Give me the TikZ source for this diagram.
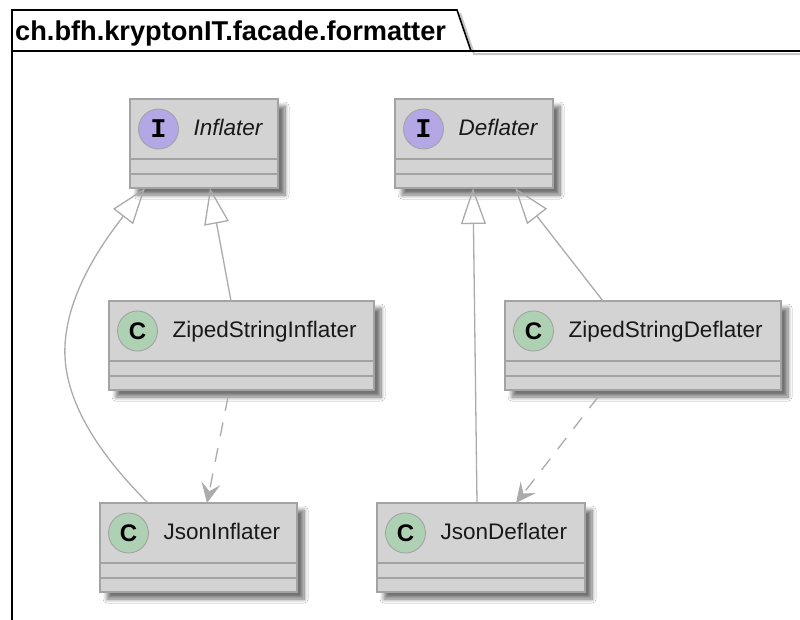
\documentclass[tikz,border=0pt]{standalone}
\usepackage{fontspec}
\setmainfont{Liberation Sans}
\setmonofont{Liberation Mono}
\usetikzlibrary{arrows.meta,shadows.blur}

\definecolor{boxfill}{HTML}{D3D3D3}
\definecolor{boxline}{HTML}{A3A3A3}
\definecolor{linkline}{HTML}{ABABAB}
\definecolor{ifacefill}{HTML}{B4A7E5}
\definecolor{classfill}{HTML}{ADD1B2}

\tikzset{
  classbox/.style={draw=boxline, fill=boxfill, line width=1.2pt, inner sep=0pt,
    outer sep=0pt, minimum height=89pt, anchor=north west,
    blur shadow={shadow xshift=7pt, shadow yshift=-7pt, shadow blur radius=4pt,
      shadow opacity=55, shadow blur steps=10}},
  compart/.style={draw=boxline, line width=1.2pt},
  badge/.style={circle, draw=boxline, line width=0.9pt, minimum size=40pt, inner sep=0pt},
  iface/.style={badge, fill=ifacefill, font=\fontsize{27}{27}\selectfont\ttfamily\bfseries},
  cls/.style={badge, fill=classfill, font=\fontsize{24}{24}\selectfont\bfseries},
  cname/.style={anchor=base west, inner sep=0pt, font=\fontsize{22.5}{22.5}\selectfont,
    text=black!90},
  realize/.style={draw=linkline, line width=1.3pt,
    -{Triangle[open, length=36pt, width=25pt, line width=1.3pt]}},
  usedep/.style={draw=linkline, line width=1.3pt, dash pattern=on 14pt off 12pt,
    -{Stealth[length=20pt, width=19pt, inset=8pt]}},
  pkgframe/.style={draw=black, line width=1.6pt, line join=miter},
}

% class box: name, x, y, width, badge style, badge letter, label
\newcommand\umlbox[7]{%
  \node[classbox, minimum width=#4pt] (#1) at (#2,#3) {};
  \draw[compart] ([yshift=-60pt]#1.north west) -- ([yshift=-60pt]#1.north east);
  \draw[compart] ([yshift=-75pt]#1.north west) -- ([yshift=-75pt]#1.north east);
  \node[#5] (#1-badge) at ([shift={(28.5pt,-30pt)}]#1.north west) {#6};
  \node[cname] (#1-name) at ([shift={(63.5pt,-36pt)}]#1.north west) {#7};
}

\begin{document}
\begin{tikzpicture}[x=1pt, y=-1pt]
  \useasboundingbox[fill=white] (0,0) rectangle (800,619);

  % package frame with its tab
  \draw[gray, line width=2pt, opacity=.45, shift={(3pt,-3pt)}]
    (457,10) -- (471,51) -- (810,51);
  \draw[pkgframe] (12,630) -- (12,10) -- (457,10) -- (471,51) -- (810,51);
  \draw[pkgframe] (12,51) -- (471,51);
  \node[anchor=base west, inner sep=0pt, font=\fontsize{27.2}{27.2}\selectfont\bfseries]
    (pkg) at (15,40) {ch.bfh.kryptonIT.facade.formatter};

  % classes and interfaces
  \umlbox{inf}{130}{99}{148}{iface}{I}{\itshape Inflater}
  \umlbox{def}{395}{99}{158}{iface}{I}{\itshape Deflater}
  \umlbox{zinf}{109}{301}{265}{cls}{C}{ZipedStringInflater}
  \umlbox{zdef}{505}{301}{276}{cls}{C}{ZipedStringDeflater}
  \umlbox{jinf}{100}{503}{197}{cls}{C}{JsonInflater}
  \umlbox{jdef}{377}{503}{208}{cls}{C}{JsonDeflater}

  % realizations
  \draw[realize] ([xshift=48pt]jinf.north west)
    .. controls (100,455) and (62,400) .. (65,345)
    .. controls (68,290) and (105,240) .. ([xshift=15pt]inf.south west);
  \draw[realize] ([xshift=122pt]zinf.north west) -- ([xshift=80pt]inf.south west);
  \draw[realize] ([xshift=100pt]jdef.north west) -- ([xshift=78pt]def.south west);
  \draw[realize] ([xshift=98pt]zdef.north west) -- ([xshift=120pt]def.south west);

  % dependencies
  \draw[usedep] ([xshift=119pt, yshift=-7pt]zinf.south west) -- ([xshift=107pt]jinf.north west);
  \draw[usedep] ([xshift=93pt, yshift=-7pt]zdef.south west) -- ([xshift=139pt]jdef.north west);
\end{tikzpicture}
\end{document}
